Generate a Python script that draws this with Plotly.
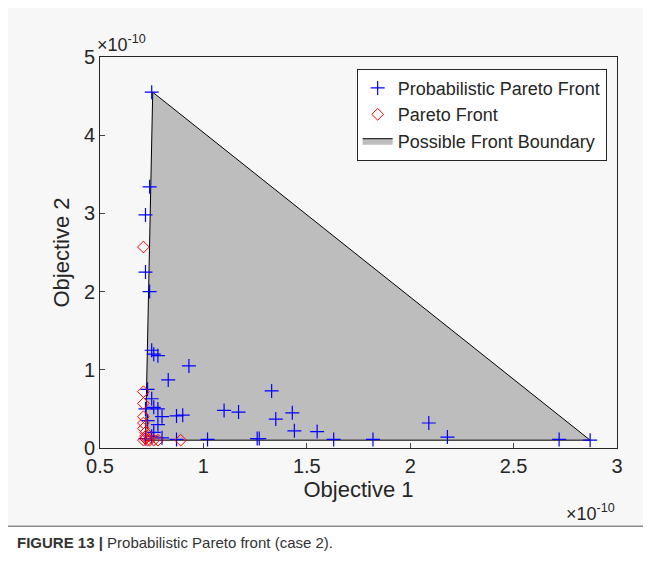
import plotly.graph_objects as go

# values in units of 1e-10
front_x = [0.72, 0.735, 0.755, 2.87, 0.72]
front_y = [0.1, 2.0, 4.55, 0.1, 0.1]

prob_x = [0.75, 0.74, 0.72, 0.72, 0.74, 0.75, 0.76, 0.78, 0.93, 0.83, 0.73, 0.75, 0.76, 0.78,
          0.72, 0.80, 0.87, 0.90, 1.10, 1.17, 1.33, 1.35, 1.43, 1.44, 1.55, 2.09, 2.18, 1.63,
          1.82, 1.26, 1.27, 1.02, 0.87, 0.80, 0.76, 0.75, 0.72, 2.72, 2.87, 0.78, 0.73]
prob_y = [4.55, 3.34, 2.98, 2.25, 2.00, 1.25, 1.20, 1.18, 1.05, 0.87, 0.75, 0.63, 0.52, 0.50,
          0.50, 0.40, 0.41, 0.42, 0.48, 0.46, 0.73, 0.37, 0.45, 0.22, 0.21, 0.32, 0.14, 0.11,
          0.11, 0.12, 0.12, 0.11, 0.11, 0.13, 0.20, 0.15, 0.12, 0.11, 0.10, 0.30, 0.35]

pareto_x = [0.71, 0.71, 0.71, 0.71, 0.71, 0.71, 0.72, 0.72, 0.72, 0.74, 0.76, 0.78, 0.89, 0.73, 0.71]
pareto_y = [2.57, 0.72, 0.57, 0.40, 0.32, 0.25, 0.20, 0.15, 0.12, 0.10, 0.10, 0.10, 0.10, 0.10, 0.10]

fig = go.Figure()
fig.add_trace(go.Scatter(x=front_x, y=front_y, fill="toself", fillcolor="#bdbdbd",
                         mode="lines", line=dict(color="black", width=1), legendrank=3,
                         name="Possible Front Boundary"))
fig.add_trace(go.Scatter(x=prob_x, y=prob_y, mode="markers", name="Probabilistic Pareto Front",
                         legendrank=1,
                         marker=dict(symbol="cross-thin", size=10, line=dict(color="blue", width=1.2))))
fig.add_trace(go.Scatter(x=pareto_x, y=pareto_y, mode="markers", name="Pareto Front", legendrank=2,
                         marker=dict(symbol="diamond-open", size=9, color="red", line=dict(width=1))))

ax = dict(showline=True, linecolor="#262626", mirror=True, ticks="inside", ticklen=5,
          showgrid=False, zeroline=False, automargin=False,
          tickfont=dict(size=20, family="Arial, Liberation Sans"))
fig.update_xaxes(range=[0.5, 3], dtick=0.5, **ax,
                 title=dict(text="Objective 1", font=dict(size=22, family="Arial, Liberation Sans"), standoff=5))
fig.update_yaxes(range=[0, 5], dtick=1, **ax,
                 title=dict(text="Objective 2", font=dict(size=22, family="Arial, Liberation Sans"), standoff=8))

fig.update_layout(
    width=651, height=579, margin=dict(l=92, r=42, t=49, b=139),
    plot_bgcolor="white", paper_bgcolor="white",
    font=dict(family="Arial, Liberation Sans", color="#262626"),
    legend=dict(x=0.98, y=0.97, xanchor="right", yanchor="top", bgcolor="white",
                bordercolor="#262626", borderwidth=1, font=dict(size=18), tracegroupgap=0),
    shapes=[dict(type="rect", xref="paper", yref="paper", x0=-0.2, x1=1.1, y0=-0.2, y1=1.14,
                 fillcolor="#f7f7f7", line=dict(width=0), layer="below"),
            dict(type="line", xref="paper", yref="paper", x0=-0.2, x1=1.1, y0=-0.2, y1=-0.2,
                 line=dict(color="#555", width=1))],
    annotations=[
        dict(text="×10<sup>-10</sup>", xref="paper", yref="paper", x=-0.01, y=1.0, xanchor="left",
             yanchor="bottom", showarrow=False, font=dict(size=18)),
        dict(text="×10<sup>-10</sup>", xref="paper", yref="paper", x=1.0, y=-0.13, xanchor="right",
             yanchor="top", showarrow=False, font=dict(size=18)),
        dict(text="<b>FIGURE 13 |</b> Probabilistic Pareto front (case 2).", xref="paper", yref="paper",
             x=-0.165, y=-0.215, xanchor="left", yanchor="top", showarrow=False,
             font=dict(size=15, color="#333"))])

fig.write_html("out.html")
